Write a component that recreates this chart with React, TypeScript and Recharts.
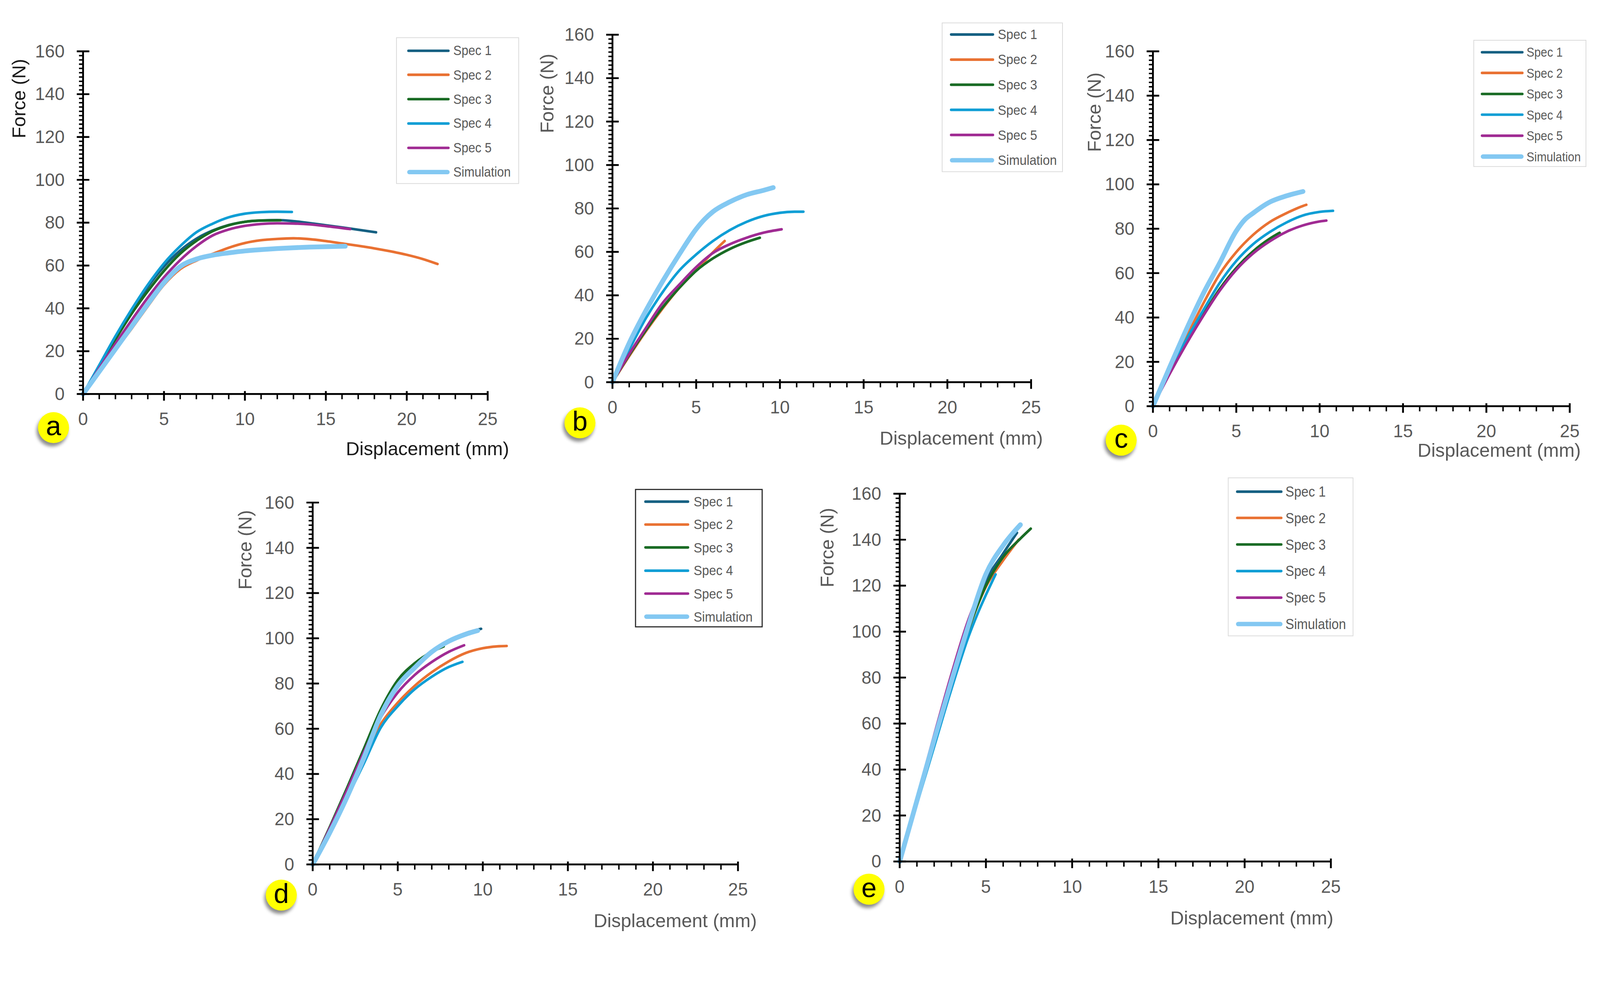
import React from 'react';
import { LineChart, Line, XAxis, YAxis } from 'recharts';

type Pt = [number, number];

const SERIES_NAMES = ['Spec 1', 'Spec 2', 'Spec 3', 'Spec 4', 'Spec 5', 'Simulation'];
const SERIES_COLORS = ['#156082', '#E97132', '#196B24', '#0F9ED5', '#A02B93', '#83C8F2'];

const X_TICKS = Array.from({ length: 26 }, (_, i) => i);
const Y_TICKS = Array.from({ length: 81 }, (_, i) => i * 2);

// panel a
const aSpec1: Pt[] = [[0, 0], [1, 13], [2, 26], [3, 38], [4, 50], [5, 59.5], [6, 67], [7, 72.5], [8, 76.3], [9, 78.9], [10, 80.4], [11, 81], [12, 81.2], [13, 80.7], [14, 79.8], [15, 78.8], [16, 77.8], [17, 76.7], [18.1, 75.5]];
const aSpec2: Pt[] = [[0, 0], [1, 10], [2, 20.5], [3, 30.5], [4, 41], [5, 51], [6, 58.3], [7, 62.3], [8, 65.4], [9, 68.3], [10, 70.5], [11, 71.8], [12, 72.4], [13, 72.7], [14, 72.3], [15, 71.4], [16, 70.3], [17, 69.2], [18, 68], [19, 66.6], [20, 65], [21, 63], [21.9, 60.7]];
const aSpec3: Pt[] = [[0, 0], [1, 12.8], [2, 25.5], [3, 37.5], [4, 48], [5, 57.5], [6, 65.5], [7, 71.5], [8, 76], [9, 78.8], [10, 80.4], [11, 81], [12.2, 81.1]];
const aSpec4: Pt[] = [[0, 0], [1, 13.5], [2, 27], [3, 39.5], [4, 51], [5, 61], [6, 69], [7, 75.5], [8, 79.5], [9, 82.5], [10, 84.2], [11, 84.9], [12, 85.1], [12.9, 85]];
const aSpec5: Pt[] = [[0, 0], [1, 12], [2, 23.5], [3, 34.5], [4, 45], [5, 54.5], [6, 62.5], [7, 69], [8, 74], [9, 76.8], [10, 78.5], [11, 79.4], [12, 79.7], [13, 79.6], [14, 79.2], [15, 78.4], [16.5, 77]];
const aSim: Pt[] = [[0, 0], [1, 10.5], [2, 21], [3, 31.5], [4, 42], [5, 52], [6, 59.5], [7, 63], [8, 64.8], [9, 65.9], [10, 66.8], [11, 67.4], [12, 67.9], [13, 68.3], [14, 68.6], [15, 68.8], [16.2, 69]];

// panel b
const bSpec2: Pt[] = [[0, 0], [1, 12], [2, 23.5], [3, 34], [4, 43.5], [5, 51.5], [6, 59.8], [6.7, 65]];
const bSpec3: Pt[] = [[0, 0], [1, 12.5], [2, 24], [3, 34.5], [4, 43.5], [5, 51.3], [6, 57], [7, 61.3], [8, 64.5], [8.8, 66.5]];
const bSpec4: Pt[] = [[0, 0], [1, 15], [2, 29.5], [3, 41.5], [4, 51.5], [5, 58.8], [6, 65], [7, 70], [8, 73.8], [9, 76.5], [10, 78], [11, 78.5], [11.4, 78.5]];
const bSpec5: Pt[] = [[0, 0], [1, 13], [2, 25], [3, 36.5], [4, 45], [5, 53], [6, 59.5], [7, 63.5], [8, 66.5], [9, 68.8], [10.1, 70.4]];
const bSim: Pt[] = [[0, 0], [1, 18], [2, 33], [3, 46.5], [4, 59], [5, 70.5], [5.5, 75], [6, 78.5], [7, 83], [8, 86.3], [9, 88.3], [9.6, 89.6]];

// panel c
const cSpec2: Pt[] = [[0, 0], [1, 16], [2, 31], [3, 46], [4, 59.5], [5, 69.5], [6, 77.2], [7, 83], [8, 87], [9, 90.3], [9.2, 90.8]];
const cSpec3: Pt[] = [[0, 0], [1, 15], [2, 28.5], [3, 41], [4, 52.8], [5, 62.3], [6, 69.8], [7, 75.5], [7.6, 78.2]];
const cSpec4: Pt[] = [[0, 0], [1, 15.5], [2, 30], [3, 43], [4, 55.5], [5, 65.5], [6, 73], [7, 78.5], [8, 82.8], [9, 86], [10, 87.6], [10.8, 88.1]];
const cSpec5: Pt[] = [[0, 0], [1, 14.5], [2, 28], [3, 40.5], [4, 52], [5, 61.5], [6, 68.8], [7, 74.3], [8, 78.6], [9, 81.5], [10, 83.3], [10.4, 83.7]];
const cSim: Pt[] = [[0, 0], [1, 17.5], [2, 34.5], [3, 50.5], [4, 64.5], [5, 79], [5.5, 84], [6, 87], [7, 92], [8, 94.8], [9, 96.8]];

// panel d
const dSpec1: Pt[] = [[0, 0], [1, 15], [2, 31], [3, 48.5], [4, 66.5], [5, 80], [6, 88], [7, 94.5], [8, 99], [9, 102.3], [9.9, 104.2]];
const dSpec2: Pt[] = [[0, 0], [1, 15.5], [2, 31], [3, 47.5], [4, 62], [5, 71.5], [6, 79], [7, 85], [8, 89.8], [9, 93.5], [10, 95.6], [11, 96.5], [11.4, 96.6]];
const dSpec3: Pt[] = [[0, 0], [1, 16.5], [2, 33.5], [3, 51], [4, 68.5], [5, 81.5], [6, 89], [7, 94], [7.7, 96.4]];
const dSpec4: Pt[] = [[0, 0], [1, 14], [2, 29], [3, 44.5], [4, 60.5], [5, 70], [6, 77.5], [7, 83], [8, 87.3], [8.8, 89.6]];
const dSpec5: Pt[] = [[0, 0], [1, 16], [2, 32.5], [3, 49.5], [4, 65], [5, 76], [6, 83.8], [7, 89.5], [8, 94], [8.9, 96.9]];
const dSim: Pt[] = [[0, 0], [1, 14], [2, 29.5], [3, 47], [4, 66], [5, 79], [6, 87], [7, 94], [8, 98.7], [9, 101.8], [9.7, 103.4]];

// panel e
const eSpec1: Pt[] = [[0, 0], [1, 26], [2, 52], [3, 77], [4, 101], [5, 122], [6, 134], [6.8, 143]];
const eSpec2: Pt[] = [[0, 0], [1, 26], [2, 52], [3, 77], [4, 101], [5, 119.5], [6, 131], [6.9, 140]];
const eSpec3: Pt[] = [[0, 0], [1, 26], [2, 52], [3, 77], [4, 101], [5, 120], [6, 132.5], [7, 140.5], [7.6, 144.8]];
const eSpec4: Pt[] = [[0, 0], [1, 25], [2, 50], [3, 75], [4, 98], [4.5, 107.5], [5, 116], [5.56, 124.9]];
const eSpec5: Pt[] = [[0, 0], [1, 27.5], [2, 55], [3, 81.5], [4, 105.5], [4.5, 115]];
const eSim: Pt[] = [[0, 0], [1, 26.5], [2, 53], [3, 78.5], [4, 103], [5, 125], [6, 137.5], [7, 146.5]];

const FONT = '"Liberation Sans", Arial, sans-serif';
const NARROW = '"Liberation Sans Narrow", "Liberation Sans", Arial, sans-serif';
const GRAY = '#595959';
const PAGE_W = 4334;
const PAGE_H = 2544;

const toRows = (pts: Pt[]) => pts.map(([x, y]) => ({ x, y }));

const XTick = ({ x, y, payload }: any) => {
  const v = payload.value;
  const major = v % 5 === 0;
  return (
    <g>
      <line x1={x} x2={x} y1={major ? y - 8 : y} y2={major ? y + 18 : y + 14} stroke="#000" strokeWidth={major ? 5 : 4} />
      {major && (
        <text x={x} y={y + 68} textAnchor="middle" dominantBaseline="central" fontFamily={FONT} fontSize={48} fill={GRAY}>
          {v}
        </text>
      )}
    </g>
  );
};

const YTick = ({ x, y, payload }: any) => {
  const v = payload.value;
  const major = v % 20 === 0;
  return (
    <g>
      <line x1={major ? x - 17 : x - 11} x2={major ? x + 17 : x} y1={y} y2={y} stroke="#000" strokeWidth={major ? 5 : 4} />
      {major && (
        <text x={x - 50} y={y} textAnchor="end" dominantBaseline="central" fontFamily={FONT} fontSize={48} fill={GRAY}>
          {v}
        </text>
      )}
    </g>
  );
};

interface LegendCfg { x: number; y: number; w: number; h: number; border: string; first: number; step: number; lineX: number; lineLen: number; textX: number; fs: number }
interface PanelCfg {
  id: string;
  plot: { x: number; y: number; w: number; h: number };
  series: (Pt[] | null)[];
  legend: LegendCfg;
  badge: [number, number];
  forceAt: [number, number];
  dispAt: [number, number];
  titleColor: string;
}

const PANELS: PanelCfg[] = [
  {
    id: 'a', plot: { x: 225, y: 139, w: 1096, h: 928 },
    series: [aSpec1, aSpec2, aSpec3, aSpec4, aSpec5, aSim],
    legend: { x: 1073, y: 101, w: 333, h: 397, border: '2px solid #d9d9d9', first: 34, step: 65.8, lineX: 28, lineLen: 115, textX: 153, fs: 37 },
    badge: [145, 1158], forceAt: [51, 267], dispAt: [1158, 1215], titleColor: '#1a1a1a',
  },
  {
    id: 'b', plot: { x: 1659, y: 94, w: 1134, h: 941 },
    series: [null, bSpec2, bSpec3, bSpec4, bSpec5, bSim],
    legend: { x: 2551, y: 61, w: 328, h: 405, border: '2px solid #d9d9d9', first: 30, step: 68.2, lineX: 20, lineLen: 120, textX: 150, fs: 38 },
    badge: [1571, 1145], forceAt: [1482, 253], dispAt: [2604, 1187], titleColor: GRAY,
  },
  {
    id: 'c', plot: { x: 3123, y: 139, w: 1129, h: 961 },
    series: [null, cSpec2, cSpec3, cSpec4, cSpec5, cSim],
    legend: { x: 3991, y: 108, w: 306, h: 344, border: '2px solid #d9d9d9', first: 31, step: 56.6, lineX: 18, lineLen: 116, textX: 142, fs: 35 },
    badge: [3037, 1192], forceAt: [2964, 304], dispAt: [4061, 1219], titleColor: GRAY,
  },
  {
    id: 'd', plot: { x: 847, y: 1361, w: 1152, h: 980 },
    series: [dSpec1, dSpec2, dSpec3, dSpec4, dSpec5, dSim],
    legend: { x: 1720, y: 1324, w: 346, h: 375, border: '3px solid #262626', first: 31, step: 62.4, lineX: 22, lineLen: 122, textX: 156, fs: 38 },
    badge: [762, 2424], forceAt: [664, 1489], dispAt: [1829, 2493], titleColor: GRAY,
  },
  {
    id: 'e', plot: { x: 2437, y: 1337, w: 1168, h: 996 },
    series: [eSpec1, eSpec2, eSpec3, eSpec4, eSpec5, eSim],
    legend: { x: 3326, y: 1293, w: 340, h: 430, border: '2px solid #d9d9d9', first: 36, step: 71.8, lineX: 20, lineLen: 126, textX: 154, fs: 39 },
    badge: [2354, 2408], forceAt: [2240, 1483], dispAt: [3391, 2486], titleColor: GRAY,
  },
];

const LegendBox = ({ cfg }: { cfg: LegendCfg }) => (
  <div style={{ position: 'absolute', left: cfg.x, top: cfg.y, width: cfg.w, height: cfg.h, border: cfg.border, boxSizing: 'border-box', background: '#fff' }}>
    {SERIES_NAMES.map((name, i) => {
      const cy = cfg.first + i * cfg.step;
      const t = i === 5 ? 12 : 7;
      return (
        <React.Fragment key={name}>
          <div style={{ position: 'absolute', left: cfg.lineX, top: cy - t / 2, width: cfg.lineLen, height: t, background: SERIES_COLORS[i], borderRadius: t / 2 }} />
          <div style={{ position: 'absolute', left: cfg.textX, top: cy, transform: 'translateY(-50%) scaleX(0.9)', transformOrigin: '0 50%', fontFamily: NARROW, fontSize: cfg.fs, color: GRAY, whiteSpace: 'nowrap', lineHeight: 1 }}>
            {name}
          </div>
        </React.Fragment>
      );
    })}
  </div>
);

const Panel = ({ p }: { p: PanelCfg }) => {
  const ML = 100, YW = 100, MT = 60, MR = 40, XH = 100, MB = 60;
  return (
    <>
      <div style={{ position: 'absolute', left: p.plot.x - ML - YW, top: p.plot.y - MT }}>
        <LineChart width={p.plot.w + ML + YW + MR} height={p.plot.h + MT + XH + MB} margin={{ top: MT, right: MR, bottom: MB, left: ML }}>
          <XAxis
            dataKey="x" type="number" domain={[0, 25]} ticks={X_TICKS} interval={0} allowDuplicatedCategory={false}
            tickSize={0} tickMargin={0} tickLine={false} height={XH}
            axisLine={{ stroke: '#000', strokeWidth: 5 }} tick={(props: any) => <XTick {...props} />}
          />
          <YAxis
            type="number" domain={[0, 160]} ticks={Y_TICKS} interval={0}
            tickSize={0} tickMargin={0} tickLine={false} width={YW}
            axisLine={{ stroke: '#000', strokeWidth: 5 }} tick={(props: any) => <YTick {...props} />}
          />
          {p.series.map((pts, i) =>
            pts ? (
              <Line
                key={SERIES_NAMES[i]} name={SERIES_NAMES[i]} data={toRows(pts) as any} dataKey="y" type="monotone"
                stroke={SERIES_COLORS[i]} strokeWidth={i === 5 ? 13 : 7} strokeLinecap="round"
                dot={false} activeDot={false} isAnimationActive={false}
              />
            ) : null
          )}
        </LineChart>
      </div>
      <LegendBox cfg={p.legend} />
      <div style={{ position: 'absolute', left: p.forceAt[0], top: p.forceAt[1], transform: 'translate(-50%, -50%) rotate(-90deg)', fontFamily: FONT, fontSize: 51, color: p.titleColor, whiteSpace: 'nowrap', lineHeight: 1 }}>
        Force (N)
      </div>
      <div style={{ position: 'absolute', left: p.dispAt[0], top: p.dispAt[1], transform: 'translate(-50%, -50%)', fontFamily: FONT, fontSize: 51, color: p.titleColor, whiteSpace: 'nowrap', lineHeight: 1 }}>
        Displacement (mm)
      </div>
      <div style={{ position: 'absolute', left: p.badge[0] - 42, top: p.badge[1] - 42, width: 84, height: 84, borderRadius: '50%', background: '#FFFF00', boxShadow: '-4px 9px 9px rgba(0,0,0,0.45)', display: 'flex', alignItems: 'center', justifyContent: 'center', fontFamily: FONT, fontSize: 74, color: '#000', lineHeight: 1 }}>
        <span style={{ marginTop: -8 }}>{p.id}</span>
      </div>
    </>
  );
};

export default function App() {
  // fit the 4334x2544 layout into whatever viewport the page actually gets
  const vw = typeof window !== 'undefined' ? window.innerWidth : PAGE_W;
  const vh = typeof window !== 'undefined' ? window.innerHeight : PAGE_H;
  const s = Math.min(1, vw / PAGE_W, vh / PAGE_H);
  return (
    <div style={{ position: 'absolute', left: 0, top: 0, width: PAGE_W * s, height: PAGE_H * s, overflow: 'hidden', background: '#fff' }}>
      <div style={{ position: 'absolute', left: 0, top: 0, width: PAGE_W, height: PAGE_H, transform: `scale(${s})`, transformOrigin: '0 0' }}>
        {PANELS.map((p) => (
          <Panel key={p.id} p={p} />
        ))}
      </div>
    </div>
  );
}
